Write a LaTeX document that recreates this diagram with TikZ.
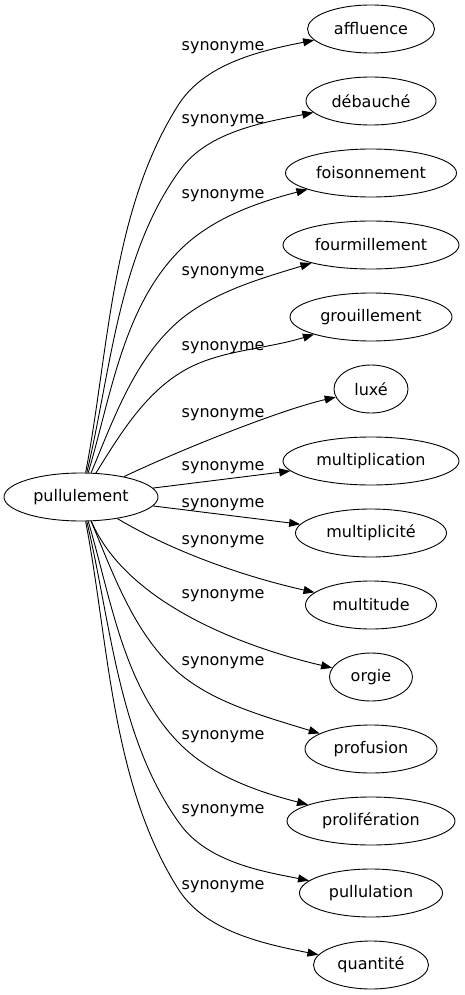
\documentclass[tikz,border=0pt]{standalone}
\usepackage{fontspec}
\setmainfont{DejaVu Sans}
\usetikzlibrary{shapes.geometric,arrows.meta}
\tikzset{
  tnode/.style={draw, ellipse, line width=0.9pt, minimum height=48pt, inner sep=0pt, font=\fontsize{16}{19}\selectfont},
  lbl/.style={anchor=base west, inner sep=0pt, font=\fontsize{16}{19}\selectfont},
  syn/.style={line width=0.9pt, -{Triangle[length=11pt,width=8pt]}}
}
\begin{document}
\begin{tikzpicture}[x=1pt,y=-1pt]
\useasboundingbox (0,0) rectangle (465,995);
\node[tnode, minimum width=154pt] (src) at (81,497) {pullulement};
\node[tnode, minimum width=127pt] (t1) at (371,29) {affluence};
\node[tnode, minimum width=130pt] (t2) at (371,101) {débauché};
\node[tnode, minimum width=171pt] (t3) at (371,173) {foisonnement};
\node[tnode, minimum width=176pt] (t4) at (371,245) {fourmillement};
\node[tnode, minimum width=162pt] (t5) at (371,317) {grouillement};
\node[tnode, minimum width=74pt] (t6) at (371,389) {luxé};
\node[tnode, minimum width=176pt] (t7) at (371,461) {multiplication};
\node[tnode, minimum width=151pt] (t8) at (371,533) {multiplicité};
\node[tnode, minimum width=131pt] (t9) at (371,605) {multitude};
\node[tnode, minimum width=83pt] (t10) at (371,677) {orgie};
\node[tnode, minimum width=132pt] (t11) at (371,749) {profusion};
\node[tnode, minimum width=168pt] (t12) at (371,821) {prolifération};
\node[tnode, minimum width=143pt] (t13) at (371,893) {pullulation};
\node[tnode, minimum width=115pt] (t14) at (371,965) {quantité};
% labels
\node[lbl] (l1) at (181.5,51) {synonyme};
\node[lbl] (l2) at (181.5,124) {synonyme};
\node[lbl] (l3) at (181.5,199) {synonyme};
\node[lbl] (l4) at (181.5,275) {synonyme};
\node[lbl] (l5) at (181.5,350) {synonyme};
\node[lbl] (l6) at (181.5,417) {synonyme};
\node[lbl] (l7) at (181.5,470) {synonyme};
\node[lbl] (l8) at (181.5,507) {synonyme};
\node[lbl] (l9) at (181.5,544) {synonyme};
\node[lbl] (l10) at (181.5,598) {synonyme};
\node[lbl] (l11) at (181.5,665) {synonyme};
\node[lbl] (l12) at (181.5,739) {synonyme};
\node[lbl] (l13) at (181.5,813) {synonyme};
\node[lbl] (l14) at (181.5,889) {synonyme};
% knee coordinates
\coordinate (k1) at (177,107);
\coordinate (k2) at (180,170);
\coordinate (k3) at (180,250);
\coordinate (k4) at (180,320);
\coordinate (k5) at (180,373);
\coordinate (k11) at (180,674);
\coordinate (k12) at (180,744);
\coordinate (k13) at (180,824);
\coordinate (k14) at (177,887);
% edges
\draw[syn] (src) .. controls (109,350) and (111,213) .. (k1) .. controls (203,64) and (259,51) .. (t1);
\draw[syn] (src) .. controls (111,371) and (118,255) .. (k2) .. controls (208,131) and (266,122) .. (t2);
\draw[syn] (src) .. controls (111,396) and (123,307) .. (k3) .. controls (211,219) and (255,203) .. (t3);
\draw[syn] (src) .. controls (114,418) and (135,358) .. (k4) .. controls (214,292) and (259,279) .. (t4);
\draw[syn] (src) .. controls (119,436) and (143,396) .. (k5) .. controls (216,350) and (263,350) .. (t5);
\draw[syn] (src) .. controls (180,450) and (280,410) .. (t6);
\draw[syn] (src) -- (t7);
\draw[syn] (src) -- (t8);
\draw[syn] (src) .. controls (177,554) and (250,578) .. (t9);
\draw[syn] (src) .. controls (125,600) and (235,645) .. (t10);
\draw[syn] (src) .. controls (114,576) and (135,636) .. (k11) .. controls (214,702) and (259,715) .. (t11);
\draw[syn] (src) .. controls (111,598) and (123,687) .. (k12) .. controls (211,775) and (255,791) .. (t12);
\draw[syn] (src) .. controls (111,623) and (118,739) .. (k13) .. controls (208,863) and (266,872) .. (t13);
\draw[syn] (src) .. controls (109,644) and (111,781) .. (k14) .. controls (203,930) and (259,943) .. (t14);
\end{tikzpicture}
\end{document}
